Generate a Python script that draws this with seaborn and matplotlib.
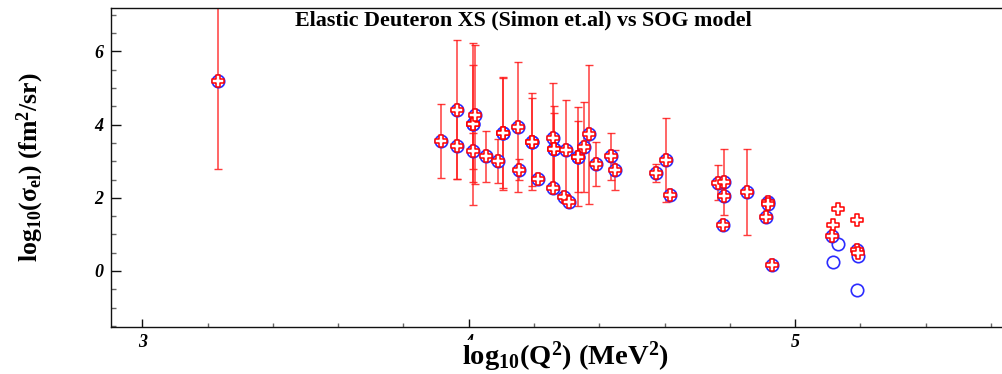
import numpy as np
import pandas as pd
import matplotlib
matplotlib.use("Agg")
import matplotlib.pyplot as plt
from matplotlib.ticker import MultipleLocator, FixedLocator
import seaborn as sns

# ---- data ----
log_q2 = [3.232, 3.914, 3.964, 3.964, 4.012, 4.012, 4.019, 4.012, 4.053, 4.090,
          4.106, 4.106, 4.150, 4.155, 4.193, 4.193, 4.213, 4.257, 4.261, 4.261,
          4.257, 4.297, 4.293, 4.308, 4.334, 4.334, 4.354, 4.369, 4.390, 4.436,
          4.448, 4.575, 4.606, 4.616, 4.764, 4.782, 4.782, 4.778, 4.853, 4.917,
          4.917, 4.912, 4.928, 5.116, 5.132, 5.113, 5.190, 5.190, 5.192]
log_xs_data = [5.19, 3.55, 4.41, 3.41, 4.02, 4.02, 4.27, 3.28, 3.13, 3.01,
               3.76, 3.76, 3.94, 2.77, 3.53, 3.53, 2.51, 3.64, 3.32, 3.32,
               2.28, 3.31, 2.02, 1.89, 3.12, 3.12, 3.39, 3.73, 2.92, 3.13,
               2.76, 2.68, 3.03, 2.09, 2.41, 2.44, 2.06, 1.26, 2.15, 1.89,
               1.83, 1.48, 0.16, 1.26, 1.69, 0.96, 1.39, 0.57, 0.50]
log_xs_err = [2.40, 1.02, 1.90, 0.90, 1.60, 2.22, 1.90, 0.50, 0.70, 0.60,
              1.55, 1.50, 1.78, 0.28, 1.32, 1.20, 0.10, 1.50, 1.20, 1.00,
              0.10, 1.35, 0.10, 0.10, 1.35, 0.97, 1.23, 1.90, 0.60, 0.63,
              0.55, 0.25, 1.14, 0.10, 0.48, 0.90, 0.10, 0.10, 1.18, 0.12,
              0.10, 0.10, 0.05, 0.00, 0.00, 0.00, 0.00, 0.00, 0.00]
log_xs_model = [5.19, 3.55, 4.41, 3.41, 4.02, 4.02, 4.27, 3.28, 3.13, 3.01,
                3.76, 3.76, 3.94, 2.77, 3.53, 3.53, 2.51, 3.64, 3.32, 3.32,
                2.28, 3.31, 2.02, 1.89, 3.12, 3.12, 3.39, 3.73, 2.92, 3.13,
                2.76, 2.68, 3.03, 2.09, 2.41, 2.44, 2.06, 1.26, 2.15, 1.89,
                1.83, 1.48, 0.16, 0.25, 0.74, 0.96, -0.52, 0.57, 0.42]

title_text = "Elastic Deuteron XS (Simon et.al) vs SOG model"
x_label = r"log$_{10}$(Q$^{2}$) (MeV$^{2}$)"
y_label = r"log$_{10}$(σ$_{\mathrm{el}}$) (fm$^{2}$/sr)"
x_ticks = [3, 4, 5]
y_ticks = [0, 2, 4, 6]

df = pd.DataFrame({"q2": log_q2, "data": log_xs_data, "err": log_xs_err,
                   "model": log_xs_model})

sns.set_style("ticks")
plt.rcParams["font.family"] = ["Liberation Serif", "DejaVu Serif"]
plt.rcParams["mathtext.fontset"] = "custom"
plt.rcParams["mathtext.rm"] = "Liberation Serif:bold"
plt.rcParams["mathtext.it"] = "Liberation Serif:bold"
plt.rcParams["mathtext.bf"] = "Liberation Serif:bold"
plt.rcParams["text.color"] = "black"
plt.rcParams["xtick.labelcolor"] = "black"
plt.rcParams["ytick.labelcolor"] = "black"

fig = plt.figure(figsize=(10.02, 3.74), dpi=100)
ax = fig.add_axes([111 / 1002, 1 - 326.7 / 374, 1 - 111 / 1002, (326.7 - 8) / 374])

# error bars of the measured cross sections
ax.errorbar(df["q2"], df["data"], yerr=df["err"], fmt="none", ecolor="#ff1a1a",
            elinewidth=1.1, capsize=3, capthick=1.0, alpha=0.85, zorder=1)

# SOG model: open blue circles
sns.scatterplot(data=df, x="q2", y="model", ax=ax, marker="o", s=80,
                facecolor="white", edgecolor="#2b2bff", linewidth=1.2, zorder=2,
                legend=False)
# data: open red crosses
sns.scatterplot(data=df, x="q2", y="data", ax=ax, marker="P", s=70,
                facecolor="white", edgecolor="#ff0000", linewidth=1.1, zorder=3,
                legend=False)

ax.set_xlim(2.904, 5.634)
ax.set_ylim(-1.522, 7.186)
ax.xaxis.set_major_locator(FixedLocator(x_ticks))
ax.xaxis.set_minor_locator(MultipleLocator(0.2))
ax.yaxis.set_major_locator(FixedLocator(y_ticks))
ax.yaxis.set_minor_locator(MultipleLocator(0.5))

ax.tick_params(axis="y", which="major", direction="in", length=7.2, width=1.0,
               color="#111111", pad=5.5)
ax.tick_params(axis="y", which="minor", direction="in", length=3.6, width=1.0,
               color="#666666")
ax.tick_params(axis="x", which="major", direction="in", length=6, width=1.0,
               color="#111111", pad=5)
ax.tick_params(axis="x", which="minor", direction="in", length=3.2, width=1.0,
               color="#666666")
for lab in ax.get_xticklabels() + ax.get_yticklabels():
    lab.set_fontstyle("italic")
    lab.set_fontweight("bold")
    lab.set_fontsize(13)

for side in ["left", "bottom", "top"]:
    ax.spines[side].set_color("#111111")
    ax.spines[side].set_linewidth(1.0)
ax.spines["right"].set_visible(False)

ax.set_xlabel("")
ax.set_ylabel("")
fig.text(523.5 / 1002, 1 - 20 / 374, title_text, ha="center", va="center",
         fontsize=15.8, fontweight="bold", color="black")
fig.text(565 / 1002, 1 - 357 / 374, x_label, ha="center", va="center",
         fontsize=20.5, fontweight="bold", color="black",
         bbox=dict(facecolor="white", edgecolor="none", pad=0))
fig.text(30 / 1002, 1 - 167 / 374, y_label, ha="center", va="center",
         rotation=90, fontsize=18.5, fontweight="bold", color="black")

fig.savefig("out.png", dpi=100)
